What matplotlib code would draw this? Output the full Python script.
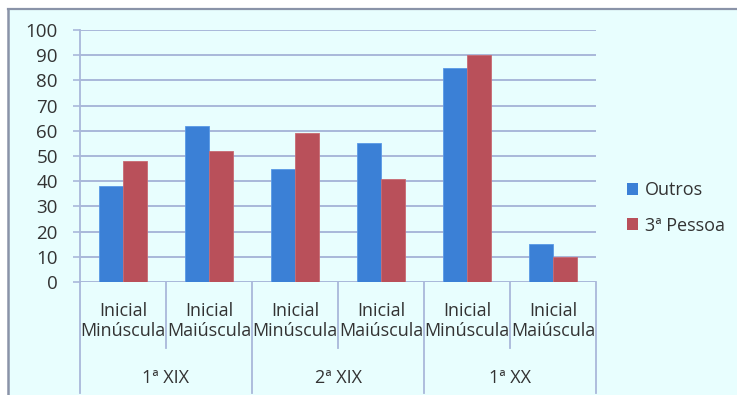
import matplotlib
matplotlib.use("Agg")
import matplotlib.pyplot as plt
from matplotlib.patches import Rectangle, Patch
from matplotlib.lines import Line2D
import numpy as np

plt.rcParams['font.family'] = ['Open Sans', 'DejaVu Sans']

# Data
groups = ["1ª XIX", "2ª XIX", "1ª XX"]
subcats = ["Inicial\nMinúscula", "Inicial\nMaiúscula"]
series_names = ["Outros", "3ª Pessoa"]
outros = [38, 62, 45, 55, 85, 15]
terceira = [48, 52, 59, 41, 90, 10]
yticks = [0, 10, 20, 30, 40, 50, 60, 70, 80, 90, 100]

W, H = 737, 395
BG = "#e8fefe"
BLUE = "#3b80d6"
RED = "#b9505a"
GRID = "#a9b8da"
TXT = "#333333"

fig = plt.figure(figsize=(W / 100, H / 100), dpi=100)
fig.patch.set_facecolor("white")

# Chart-area background with its top and left border
fig.patches.append(Rectangle((8 / W, 0), 1 - 8 / W, 1 - 9 / H, transform=fig.transFigure,
                             facecolor=BG, edgecolor="none", zorder=-10))
fig.lines.append(Line2D([7.5 / W, 1], [1 - 9 / H, 1 - 9 / H], transform=fig.transFigure,
                        color="#8a93a8", lw=1.6, zorder=-9))
fig.lines.append(Line2D([7.5 / W, 7.5 / W], [0, 1 - 9 / H], transform=fig.transFigure,
                        color="#8a93a8", lw=1.8, zorder=-9))

ax_l, ax_r, ax_top, ax_bot = 80, 596, 30, 282
ax = fig.add_axes([ax_l / W, 1 - ax_bot / H, (ax_r - ax_l) / W, (ax_bot - ax_top) / H])
ax.set_facecolor("none")
ax.set_zorder(1)

n = len(outros)
x = np.arange(n) + 0.5
bw = 0.28
ax.bar(x - bw / 2, outros, bw, color=BLUE, edgecolor="#5a9ae6", linewidth=0.6, zorder=3,
       label=series_names[0])
ax.bar(x + bw / 2, terceira, bw, color=RED, edgecolor="#c86a72", linewidth=0.6, zorder=3,
       label=series_names[1])

ax.set_xlim(0, n)
ax.set_ylim(0, 100)
ax.set_yticks(yticks)
ax.set_yticklabels([str(v) for v in yticks], fontsize=13.5, color=TXT)
ax.tick_params(axis="y", length=5, width=1.2, color=GRID, pad=11)
ax.set_xticks([])
for v in yticks:
    ax.axhline(v, color=GRID, lw=1.4, zorder=1)
for s in ["top", "right", "bottom"]:
    ax.spines[s].set_visible(False)
ax.spines["left"].set_color(GRID)
ax.spines["left"].set_linewidth(1.3)

# Multi-level category axis
axh = ax_bot - ax_top
def yfrac(py):
    return -(py - ax_bot) / axh

tr = ax.get_xaxis_transform()
for i in range(n + 1):
    outer = (i % 2 == 0)
    y_end = yfrac(393) if outer else yfrac(348)
    ax.add_line(Line2D([i, i], [0, y_end], transform=tr, color=GRID, lw=1.3, clip_on=False))

for i in range(n):
    ax.text(x[i], yfrac(321), subcats[i % 2], transform=tr, ha="center", va="center",
            fontsize=13, color=TXT, linespacing=1.1)
for g, name in enumerate(groups):
    ax.text(2 * g + 1, yfrac(378), name, transform=tr, ha="center", va="center",
            fontsize=13, color=TXT)

handles = [Patch(facecolor=BLUE, edgecolor="none"), Patch(facecolor=RED, edgecolor="none")]
fig.legend(handles, series_names, loc="center left", bbox_to_anchor=(627 / W, 1 - 208 / H),
           frameon=False, fontsize=13, handlelength=0.6, handleheight=0.6,
           handletextpad=0.4, labelspacing=0.95, borderpad=0, borderaxespad=0,
           labelcolor=TXT)

fig.savefig("out.png", dpi=100, facecolor=fig.get_facecolor())
